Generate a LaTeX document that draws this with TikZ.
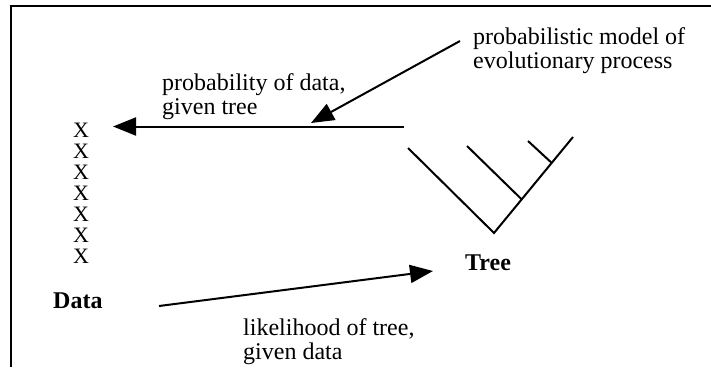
\documentclass[tikz,border=0pt]{standalone}
\usepackage{fontspec}
\setmainfont{Liberation Serif}
\usetikzlibrary{arrows.meta}
\begin{document}
\begin{tikzpicture}[x=1pt,y=-1pt,
  lbl/.style={inner sep=0pt, font=\fontsize{24}{24}\selectfont, align=left},
  xmark/.style={inner sep=0pt, font=\fontsize{22}{22}\selectfont},
  bold/.style={inner sep=0pt, font=\fontsize{24}{24}\selectfont\bfseries},
  arr/.style={line width=2pt, -{Triangle[length=23pt,width=18pt]}},
  frameline/.style={line width=2pt},
  branch/.style={line width=2pt}]
\useasboundingbox (0,0) rectangle (711,367);
% frame
\draw[frameline] (11,367) -- (11,6) -- (711,6);
% labels
\node[lbl, anchor=north west] (model) at (473,27.8) {probabilistic model of\\evolutionary process};
\node[lbl, anchor=north west] (prob) at (162,73.8) {probability of data,\\given tree};
\node[lbl, anchor=north west] (lik) at (243,318.8) {likelihood of tree,\\given data};
\node[xmark, anchor=base west] (x1) at (73,137) {X};
\node[xmark, anchor=base west] (x2) at (73,158) {X};
\node[xmark, anchor=base west] (x3) at (73,179) {X};
\node[xmark, anchor=base west] (x4) at (73,200) {X};
\node[xmark, anchor=base west] (x5) at (73,221) {X};
\node[xmark, anchor=base west] (x6) at (73,242) {X};
\node[xmark, anchor=base west] (x7) at (73,263) {X};
\node[bold, anchor=base west] (data) at (53,308) {Data};
\node[bold, anchor=base west] (treelbl) at (465,270) {Tree};
% arrow end points
\coordinate (hA) at (404,126.5);
\coordinate (hB) at (113,126.5);
\coordinate (dA) at (460,41);
\coordinate (dB) at (311,123);
\coordinate (bA) at (159,306);
\coordinate (bB) at (433,271);
\draw[arr] (hA) -- (hB);
\draw[arr] (dA) -- (dB);
\draw[arr] (bA) -- (bB);
% tree
\coordinate (R) at (494,233);
\coordinate (L1) at (408,148);
\coordinate (L2) at (467,146);
\coordinate (L3) at (528,141);
\coordinate (L4) at (573,137);
\coordinate (J1) at (521.7,199.4);
\coordinate (J2) at (551.7,162.9);
\draw[branch] (L1) -- (R) -- (L4);
\draw[branch] (L2) -- (J1);
\draw[branch] (L3) -- (J2);
\end{tikzpicture}
\end{document}
